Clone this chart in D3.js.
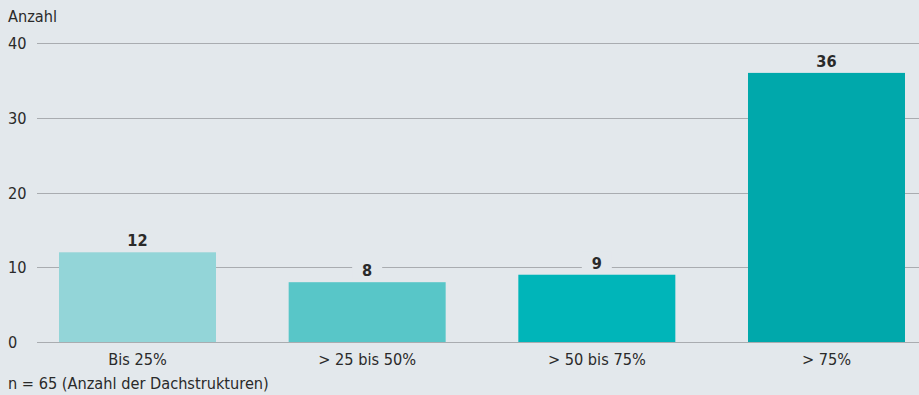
<!DOCTYPE html>
<html>
<head>
<meta charset="utf-8">
<script src="https://cdn.jsdelivr.net/npm/d3@7"></script>
<style>
  body { margin: 0; background: #e3e8ec; }
  svg { display: block; }
</style>
</head>
<body>
<div id="chart"></div>
<script>
// data
const categories = ["Bis 25%", "> 25 bis 50%", "> 50 bis 75%", "> 75%"];
const values = [12, 8, 9, 36];
const barColors = ["#93d5d8", "#58c6c8", "#00b5b9", "#00a8ab"];
const yTicks = [0, 10, 20, 30, 40];
const yTitle = "Anzahl";
const footnote = "n = 65 (Anzahl der Dachstrukturen)";

const width = 919;
const height = 395;
const font = '"DejaVu Sans Condensed", "Liberation Sans Narrow", sans-serif';
const fs = "16.2px";

const svg = d3
  .select("#chart")
  .append("svg")
  .attr("width", width)
  .attr("height", height)
  .style("font-family", font)
  .style("fill", "#2a2a2a");

svg.append("rect").attr("width", width).attr("height", height).attr("fill", "#e3e8ec");

const x = d3.scaleBand().domain(categories).range([59, 905]).paddingInner(0.3164).paddingOuter(0);
const y = d3.scaleLinear().domain([0, 40]).range([342, 43]);

// gridlines
svg
  .append("g")
  .selectAll("line")
  .data(yTicks)
  .enter()
  .append("line")
  .attr("x1", 37)
  .attr("x2", width)
  .attr("y1", (d) => Math.round(y(d)) + 0.5)
  .attr("y2", (d) => Math.round(y(d)) + 0.5)
  .attr("stroke", "#a9acb0")
  .attr("stroke-width", 1);

// y labels
svg
  .append("g")
  .selectAll("text")
  .data(yTicks)
  .enter()
  .append("text")
  .attr("x", 8)
  .attr("y", (d) => y(d) + 6)
  .style("font-size", fs)
  .text((d) => d);

svg.append("text").attr("x", 8).attr("y", 22).style("font-size", fs).text(yTitle);

// bars
svg
  .append("g")
  .selectAll("rect")
  .data(values)
  .enter()
  .append("rect")
  .attr("x", (d, i) => x(categories[i]))
  .attr("y", (d) => y(d))
  .attr("width", x.bandwidth())
  .attr("height", (d) => y(0) - y(d))
  .attr("fill", (d, i) => barColors[i]);

// value labels with background knockout
const lbl = svg
  .append("g")
  .selectAll("g")
  .data(values)
  .enter()
  .append("g")
  .attr("transform", (d, i) => `translate(${x(categories[i]) + x.bandwidth() / 2},${y(d) - 6})`);

lbl
  .append("rect")
  .attr("x", -15)
  .attr("y", -17)
  .attr("width", 30)
  .attr("height", 19)
  .attr("fill", "#e3e8ec");

lbl
  .append("text")
  .attr("text-anchor", "middle")
  .style("font-size", fs)
  .style("font-weight", "bold")
  .text((d) => d);

// x labels
svg
  .append("g")
  .selectAll("text")
  .data(categories)
  .enter()
  .append("text")
  .attr("x", (d) => x(d) + x.bandwidth() / 2)
  .attr("y", 365)
  .attr("text-anchor", "middle")
  .style("font-size", fs)
  .text((d) => d);

svg.append("text").attr("x", 8).attr("y", 389).style("font-size", fs).text(footnote);
</script>
</body>
</html>
